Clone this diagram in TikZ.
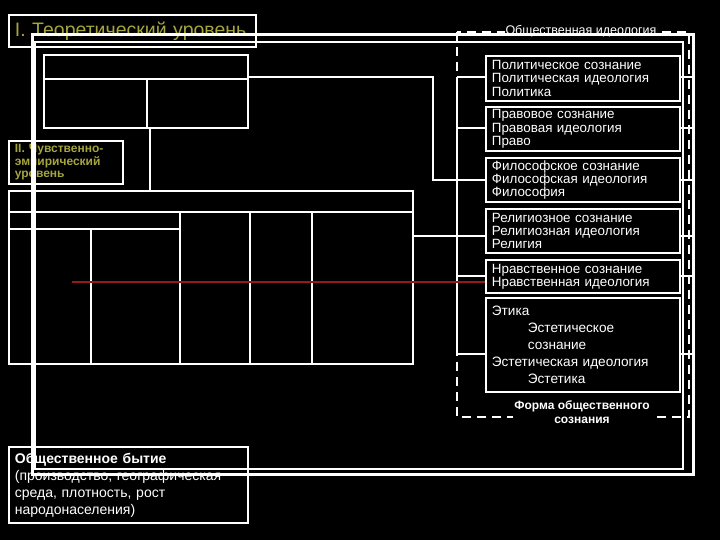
\documentclass[tikz,border=0pt]{standalone}
\usepackage{fontspec}
\setmainfont{Liberation Sans}
\definecolor{titlecol}{RGB}{165,165,62}
\definecolor{redln}{RGB}{150,25,25}
\begin{document}
\begin{tikzpicture}[x=1pt,y=-1pt,
  wline/.style={draw=white, line width=1.6pt},
  box/.style={draw=white, line width=1.8pt, fill=black, rectangle, anchor=north west, inner xsep=6pt, inner ysep=0pt, align=left},
  rtext/.style={text=white, font=\fontsize{13.4}{13.2}\selectfont},
  atext/.style={text=white, font=\fontsize{13.6}{17}\selectfont},
]
\fill[black] (0,0) rectangle (720,540);
\useasboundingbox (0,0) rectangle (720,540);

% dashed rectangle (social ideology / form of consciousness)
\draw[white, line width=1.6pt, dash pattern=on 9pt off 6pt] (457,32) rectangle (689,417);
\node[fill=black, text=white, font=\fontsize{12.5}{12}\selectfont, inner sep=1pt] (ideo) at (581,31) {Общественная идеология};
\node[fill=black, text=white, font=\bfseries\fontsize{12}{13.5}\selectfont, align=center, inner sep=1pt] (forma) at (582,412) {Форма общественного\\сознания};

% left boxes
\node[box, minimum width=247, minimum height=32, text width=235, text=titlecol, font=\fontsize{19.5}{20}\selectfont] (t1) at (8,14) {I. Теоретический уровень};
\node[box, minimum width=204, minimum height=73] (theo) at (43,54) {};
\draw[wline] (43,79) -- (247,79);
\draw[wline] (147,79) -- (147,127);
\node[box, minimum width=114, minimum height=43, text width=102, text=titlecol, font=\bfseries\fontsize{12}{12.5}\selectfont] (t2) at (8,140) {II. Чувственно-\\эмпирический\\уровень};
\node[box, minimum width=404, minimum height=173] (emp) at (8,190) {};
\draw[wline] (8,212) -- (412,212);
\draw[wline] (8,229) -- (180,229);
\draw[wline] (180,212) -- (180,363);
\draw[wline] (250,212) -- (250,363);
\draw[wline] (312,212) -- (312,363);
\draw[wline] (91,229) -- (91,363);
\node[box, minimum width=239, minimum height=76, text width=227, text=white, font=\fontsize{14}{17}\selectfont] (byt) at (8,446) {\textbf{Общественное бытие}\\(производство, географическая\\среда, плотность, рост\\народонаселения)};

% right boxes
\node[box, rtext, minimum width=194, minimum height=45, text width=182] (pol) at (485,55) {Политическое сознание\\Политическая идеология\\Политика};
\node[box, rtext, minimum width=194, minimum height=44, text width=182] (law) at (485,106) {Правовое сознание\\Правовая идеология\\Право};
\node[box, rtext, minimum width=194, minimum height=44, text width=182] (phil) at (485,157) {Философское сознание\\Философская идеология\\Философия};
\node[box, rtext, minimum width=194, minimum height=44, text width=182] (rel) at (485,208) {Религиозное сознание\\Религиозная идеология\\Религия};
\node[box, rtext, minimum width=194, minimum height=33, text width=182] (mor) at (485,259) {Нравственное сознание\\Нравственная идеология};
\node[box, atext, minimum width=194, minimum height=94, text width=182] (aes) at (485,297) {Этика\\\hspace*{36pt}Эстетическое\\\hspace*{36pt}сознание\\Эстетическая идеология\\\hspace*{36pt}Эстетика};

% connectors
\coordinate (j1) at (433,77);
\coordinate (j2) at (433,180);
\draw[wline] (j1 -| theo.east) -- (j1) -- (j2) -- (j2 -| phil.west);
\coordinate (j4) at (150,127);
\draw[wline] (j4 |- theo.south) -- (j4 |- emp.north);
\coordinate (busT) at (457,77);
\coordinate (busL) at (457,128);
\coordinate (busR) at (457,236);
\coordinate (busM) at (457,276);
\coordinate (busB) at (457,354);
\draw[wline] (busT) -- (busB);
\draw[wline] (busT) -- (busT -| pol.west);
\draw[wline] (busL) -- (busL -| law.west);
\draw[wline] (busR -| emp.east) -- (busR -| rel.west);
\draw[wline] (busM) -- (busM -| mor.west);
\draw[wline] (busB) -- (busB -| aes.west);
\coordinate (r1) at (693,77);
\coordinate (r2) at (693,128);
\coordinate (r3) at (693,180);
\coordinate (r4) at (693,236);
\coordinate (r5) at (693,276);
\coordinate (r6) at (693,354);
\draw[wline] (r1 -| pol.east) -- (r1);
\draw[wline] (r2 -| law.east) -- (r2);
\draw[wline] (r3 -| phil.east) -- (r3);
\draw[wline] (r4 -| rel.east) -- (r4);
\draw[wline] (r5 -| mor.east) -- (r5);
\draw[wline] (r6 -| aes.east) -- (r6);

% red line
\coordinate (rs) at (72,282);
\coordinate (re) at (485,282);
\draw[redln, line width=1.6pt] (rs) -- (re);

% double frame
\draw[white, line width=3pt] (32,35) rectangle (693,474);
\draw[white, line width=1.5pt] (35,42) rectangle (683,469);
\end{tikzpicture}
\end{document}
